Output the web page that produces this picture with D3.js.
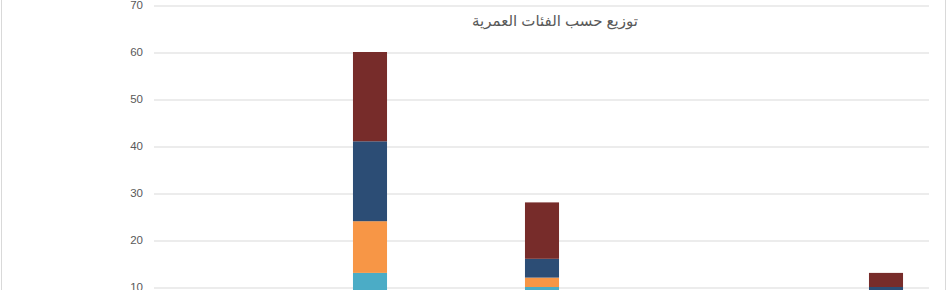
<!DOCTYPE html>
<html>
<head>
<meta charset="utf-8">
<script src="https://cdn.jsdelivr.net/npm/d3@7"></script>
<style>
  body { margin: 0; background: #fff; }
  svg { display: block; }
</style>
</head>
<body>
<script>
// age groups (labels are below the visible crop)
var categories = ["أقل من 20", "20 - 30", "30 - 40", "40 - 50", "أكثر من 50"];
var seriesNames = ["السلسلة 1", "السلسلة 2", "السلسلة 3", "السلسلة 4"];
var seriesColors = ["#4BACC6", "#F79646", "#2C4D75", "#772C2A"];
var s1 = [0, 13, 10, 0, 5];
var s2 = [0, 11, 2, 0, 3];
var s3 = [0, 17, 4, 0, 2];
var s4 = [0, 19, 12, 0, 3];
var yTicks = [10, 20, 30, 40, 50, 60, 70];
var title = "توزيع حسب الفئات العمرية";

var W = 948, H = 290;
var svg = d3.select("body").append("svg").attr("width", W).attr("height", H);

// chart border
svg.append("rect")
  .attr("x", 1.5).attr("y", -10).attr("width", 944).attr("height", 320)
  .style("fill", "none").style("stroke", "#d9d9d9");

var plotLeft = 154, plotRight = 929;
var y = d3.scaleLinear().domain([0, 70]).range([334, 5]);
var x = d3.scaleBand().domain(categories).range([112, 972]).paddingInner(0.802).paddingOuter(0.401);

// gridlines + labels
var yAxis = d3.axisLeft(y).tickValues(yTicks).tickSize(-(plotRight - plotLeft)).tickPadding(11);
var gAxis = svg.append("g").attr("transform", "translate(" + plotLeft + ",0)").call(yAxis);
gAxis.select(".domain").remove();
gAxis.selectAll("line").style("stroke", "#d9d9d9").attr("transform", "translate(0,0.5)");
gAxis.selectAll("text").style("fill", "#595959").style("font-family", "Arial, 'Liberation Sans', sans-serif").style("font-size", "11.5px");

var rows = categories.map(function(c, i) {
  return { cat: c, a: s1[i], b: s2[i], c: s3[i], d: s4[i] };
});
var stack = d3.stack().keys(["a", "b", "c", "d"])(rows);

svg.append("g").selectAll("g")
  .data(stack)
  .enter().append("g")
  .style("fill", function(d, i) { return seriesColors[i]; })
  .selectAll("rect")
  .data(function(d) { return d; })
  .enter().append("rect")
  .attr("x", function(d) { return x(d.data.cat); })
  .attr("width", x.bandwidth())
  .attr("y", function(d) { return y(d[1]); })
  .attr("height", function(d) { return y(d[0]) - y(d[1]); });

svg.append("text")
  .attr("x", 555).attr("y", 26)
  .attr("text-anchor", "middle")
  .style("font-family", "Arial, 'DejaVu Sans', sans-serif")
  .style("font-size", "15px")
  .style("fill", "#595959")
  .text(title);
</script>
</body>
</html>
